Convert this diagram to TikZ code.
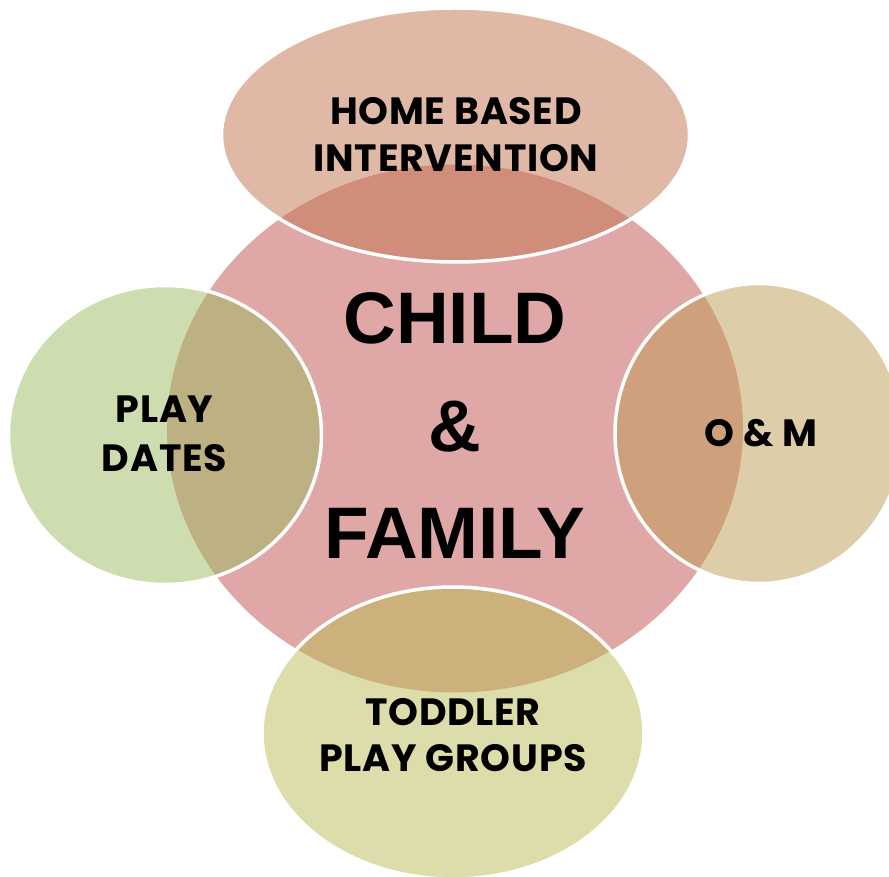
\documentclass[tikz,border=0pt]{standalone}
\usepackage{fontspec}
\usetikzlibrary{shapes.geometric}
\newfontfamily\labfont{Poppins}[LetterSpace=2]
\newfontfamily\bigfont{Liberation Sans}
\definecolor{cpink}{RGB}{192,80,77}
\definecolor{ctop}{RGB}{193,115,77}
\definecolor{cleft}{RGB}{155,187,97}
\definecolor{cright}{RGB}{189,155,83}
\definecolor{cbottom}{RGB}{187,187,87}
\tikzset{
  blob/.style={ellipse, inner sep=0pt, outer sep=0pt, fill opacity=0.5},
  sat/.style={blob, draw=white, draw opacity=1, line width=3.5pt},
  lab/.style={inner sep=0pt, align=center, text=black,
    font=\labfont\bfseries\fontsize{38}{47.5}\selectfont},
  big/.style={inner sep=0pt, align=center, text=black,
    font=\bigfont\bfseries\fontsize{73}{107.5}\selectfont},
}
\begin{document}
\begin{tikzpicture}[x=1pt,y=-1pt]
\useasboundingbox (0,0) rectangle (889,877);
\node[blob, fill=cpink, minimum width=576pt, minimum height=528pt] (center) at (455,428.5) {};
\node[sat, fill=ctop, minimum width=468pt, minimum height=254pt] (top) at (455.5,135) {};
\node[sat, fill=cleft, minimum width=313pt, minimum height=299pt] (left) at (165,435) {};
\node[sat, fill=cright, minimum width=288pt, minimum height=300pt] (right) at (759,433.5) {};
\node[sat, fill=cbottom, minimum width=382pt, minimum height=292pt] (bottom) at (453,733) {};
\node[big] (tcenter) at (455,426) {CHILD\\\&\\FAMILY};
\node[lab] (ttop) at (456,134.5) {HOME BASED\\INTERVENTION};
\node[lab, font=\labfont\bfseries\fontsize{38}{48.5}\selectfont] (tleft) at (164.5,434) {PLAY\\DATES};
\node[lab] (tright) at (761,433.5) {O \& M};
\node[lab, font=\labfont\bfseries\fontsize{38}{46}\selectfont] (tbottom) at (453,735.5) {TODDLER\\PLAY GROUPS};
\end{tikzpicture}
\end{document}
